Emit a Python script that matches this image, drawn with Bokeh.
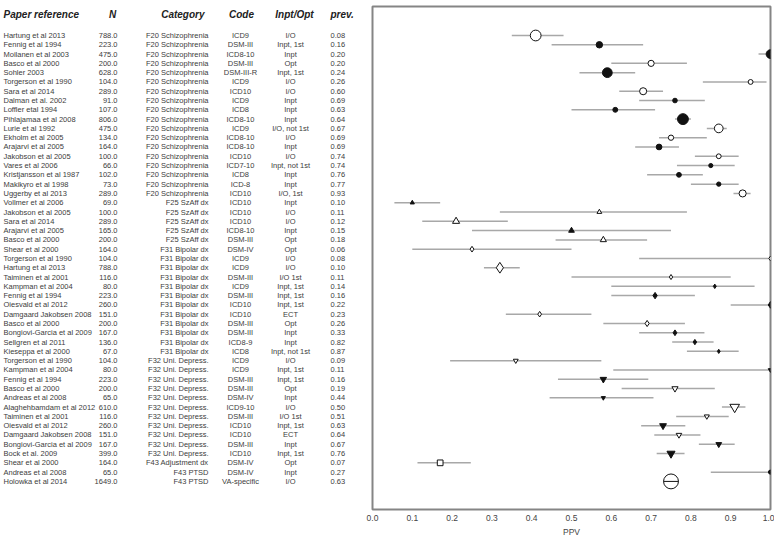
import math
from bokeh.plotting import figure
from bokeh.models import Range1d, FixedTicker, NumeralTickFormatter, ColumnDataSource
from bokeh.layouts import row
from bokeh.embed import file_html
from bokeh.resources import INLINE
from bokeh.core.properties import value

# ---------------- data ----------------
paper = [
    "Hartung et al 2013", "Fennig et al 1994", "Moilanen et al 2003", "Basco et al 2000", "Sohler 2003",
    "Torgerson et al 1990", "Sara et al 2014", "Dalman et al. 2002", "Loffler etal 1994", "Pihlajamaa et al 2008",
    "Lurie et al 1992", "Ekholm et al 2005", "Arajarvi et al 2005", "Jakobson et al 2005", "Vares et al 2006",
    "Kristjansson et al 1987", "Makikyro et al 1998", "Uggerby et al 2013",
    "Vollmer et al 2006", "Jakobson et al 2005", "Sara et al 2014", "Arajarvi et al 2005", "Basco et al 2000",
    "Shear et al 2000", "Torgerson et al 1990", "Hartung et al 2013", "Taiminen et al 2001", "Kampman et al 2004",
    "Fennig et al 1994", "Oiesvald et al 2012", "Damgaard Jakobsen 2008", "Basco et al 2000",
    "Bongiovi-Garcia et al 2009", "Sellgren et al 2011", "Kieseppa et al 2000",
    "Torgerson et al 1990", "Kampman et al 2004", "Fennig et al 1994", "Basco et al 2000", "Andreas et al 2008",
    "Alaghehbamdam et al 2012", "Taiminen et al 2001", "Oiesvald et al 2012", "Damgaard Jakobsen 2008",
    "Bongiovi-Garcia et al 2009", "Bock et al. 2009",
    "Shear et al 2000", "Andreas et al 2008", "Holowka et al 2014",
]
n_subjects = [
    788, 223, 475, 200, 628, 104, 289, 91, 107, 806, 475, 134, 164, 100, 66, 102, 73, 289,
    69, 100, 289, 165, 200,
    164, 104, 788, 116, 80, 223, 260, 151, 200, 167, 136, 67,
    104, 80, 223, 200, 65, 610, 116, 260, 151, 167, 399,
    164, 65, 1649,
]
category = (["F20 Schizophrenia"] * 18 + ["F25 SzAff dx"] * 5 + ["F31 Bipolar dx"] * 12
            + ["F32 Uni. Depress."] * 11 + ["F43 Adjustment dx", "F43 PTSD", "F43 PTSD"])
code = [
    "ICD9", "DSM-III", "ICD8-10", "DSM-III", "DSM-III-R", "ICD9", "ICD10", "ICD9", "ICD8", "ICD8-10",
    "ICD9", "ICD8-10", "ICD8-10", "ICD10", "ICD7-10", "ICD8", "ICD-8", "ICD10",
    "ICD10", "ICD10", "ICD10", "ICD8-10", "DSM-III",
    "DSM-IV", "ICD9", "ICD9", "DSM-III", "ICD9", "DSM-III", "ICD10", "ICD10", "DSM-III", "DSM-III",
    "ICD8-9", "ICD8",
    "ICD9", "ICD9", "DSM-III", "DSM-III", "DSM-IV", "ICD9-10", "DSM-III", "ICD10", "ICD10", "DSM-III", "ICD10",
    "DSM-IV", "DSM-IV", "VA-specific",
]
setting = [
    "I/O", "Inpt, 1st", "Inpt", "Opt", "Inpt, 1st", "I/O", "I/O", "Inpt", "Inpt", "Inpt",
    "I/O, not 1st", "I/O", "Inpt", "I/O", "Inpt, not 1st", "Inpt", "Inpt", "I/O, 1st",
    "Inpt", "I/O", "I/O", "Inpt", "Opt",
    "Opt", "I/O", "I/O", "I/O 1st", "Inpt, 1st", "Inpt, 1st", "Inpt, 1st", "ECT", "Opt", "Inpt", "Inpt",
    "Inpt, not 1st",
    "I/O", "Inpt, 1st", "Inpt, 1st", "Opt", "Inpt", "I/O", "I/O 1st", "Inpt, 1st", "ECT", "Inpt", "Inpt, 1st",
    "Opt", "Inpt", "I/O",
]
prev = [
    0.08, 0.16, 0.20, 0.20, 0.24, 0.26, 0.60, 0.69, 0.63, 0.64, 0.67, 0.69, 0.69, 0.74, 0.74, 0.76, 0.77, 0.93,
    0.10, 0.11, 0.12, 0.15, 0.18,
    0.06, 0.08, 0.10, 0.11, 0.14, 0.16, 0.22, 0.23, 0.26, 0.33, 0.82, 0.87,
    0.09, 0.11, 0.16, 0.19, 0.44, 0.50, 0.51, 0.63, 0.64, 0.67, 0.76,
    0.07, 0.27, 0.63,
]
ppv = [
    0.41, 0.57, 1.00, 0.70, 0.59, 0.95, 0.68, 0.76, 0.61, 0.78, 0.87, 0.75, 0.72, 0.87, 0.85, 0.77, 0.87, 0.93,
    0.10, 0.57, 0.21, 0.50, 0.58,
    0.25, 1.00, 0.32, 0.75, 0.86, 0.71, 1.00, 0.42, 0.69, 0.76, 0.81, 0.87,
    0.36, 1.00, 0.58, 0.76, 0.58, 0.91, 0.84, 0.73, 0.77, 0.87, 0.75,
    0.17, 1.00, 0.75,
]
ci_low = [
    0.35, 0.45, 0.97, 0.60, 0.52, 0.83, 0.62, 0.67, 0.50, 0.76, 0.84, 0.72, 0.66, 0.81, 0.765, 0.69, 0.80, 0.907,
    0.055, 0.32, 0.125, 0.25, 0.46,
    0.10, 0.67, 0.28, 0.50, 0.60, 0.60, 0.90, 0.335, 0.58, 0.67, 0.753, 0.79,
    0.195, 0.605, 0.466, 0.626, 0.445, 0.878, 0.763, 0.675, 0.708, 0.82, 0.714,
    0.113, 0.85, 0.735,
]
ci_high = [
    0.48, 0.68, 1.00, 0.79, 0.66, 0.99, 0.73, 0.835, 0.71, 0.80, 0.89, 0.84, 0.77, 0.92, 0.91, 0.83, 0.92, 0.95,
    0.17, 0.79, 0.34, 0.75, 0.69,
    0.50, 1.00, 0.37, 0.90, 0.96, 0.81, 1.00, 0.55, 0.785, 0.834, 0.857, 0.92,
    0.575, 1.00, 0.693, 0.86, 0.706, 0.937, 0.895, 0.786, 0.824, 0.91, 0.784,
    0.247, 1.00, 0.77,
]
ppv_ticks = [0.0, 0.1, 0.2, 0.3, 0.4, 0.5, 0.6, 0.7, 0.8, 0.9, 1.0]

# ---------------- layout constants ----------------
FONT = "Liberation Sans"
ROW = 9.29         # px per study row
TOP0 = 35          # px from page top to first row centre
FRAME_TOP = 6
TABLE_W = 366
FRAME_W, FRAME_H = 398, 503

rows = list(range(len(paper)))
y_top = (FRAME_TOP - TOP0) / ROW
y_bot = (FRAME_TOP + FRAME_H - TOP0) / ROW

# ---------------- table figure ----------------
t = figure(frame_width=TABLE_W, frame_height=FRAME_H, output_backend="svg", toolbar_location=None,
           x_axis_location=None, y_axis_location=None,
           x_range=Range1d(0, TABLE_W), y_range=Range1d(y_bot, y_top),
           min_border_top=FRAME_TOP, min_border_left=0, min_border_right=0, min_border_bottom=0)
t.grid.visible = False
t.outline_line_color = None

tsrc = ColumnDataSource(dict(
    y=rows, paper=paper,
    n=[f"{v:.1f}" for v in n_subjects],
    cat=category, code=code, setting=setting,
    prev=[f"{v:.2f}" for v in prev],
))
body = dict(source=tsrc, text_font=value(FONT), text_font_size="7.5px",
            text_color="#3c3c3c", text_baseline="middle")
t.text(x=3, y="y", text="paper", text_align="left", **body)
t.text(x=117, y="y", text="n", text_align="right", **body)
t.text(x=208, y="y", text="cat", text_align="right", **body)
t.text(x=240, y="y", text="code", text_align="center", **body)
t.text(x=290, y="y", text="setting", text_align="center", **body)
t.text(x=330, y="y", text="prev", text_align="left", **body)

hdr = dict(text_font=value(FONT), text_font_size="10px", text_font_style="bold italic",
           text_color="#222222", text_baseline="middle")
hy = -2.3
t.text(x=[3], y=[hy], text=["Paper reference"], text_align="left", **hdr)
t.text(x=[112], y=[hy], text=["N"], text_align="center", **hdr)
t.text(x=[204], y=[hy], text=["Category"], text_align="right", **hdr)
t.text(x=[241], y=[hy], text=["Code"], text_align="center", **hdr)
t.text(x=[294], y=[hy], text=["Inpt/Opt"], text_align="center", **hdr)
t.text(x=[330], y=[hy], text=["prev."], text_align="left", **hdr)

# ---------------- forest plot ----------------
p = figure(frame_width=FRAME_W, frame_height=FRAME_H, output_backend="svg", toolbar_location=None,
           y_axis_location=None, x_range=Range1d(0, 1), y_range=Range1d(y_bot, y_top),
           min_border_top=FRAME_TOP, min_border_left=372 - TABLE_W, min_border_right=4,
           min_border_bottom=5)
p.grid.visible = False
p.outline_line_color = "#858585"
p.outline_line_width = 2

marker_of = {"F20": "circle", "F25": "triangle", "F31": "diamond", "F32": "inverted_triangle",
             "F43 Adjustment": "square", "F43 PTSD": "circle"}

def marker_for(cat):
    for k in ("F43 Adjustment", "F43 PTSD"):
        if cat.startswith(k):
            return marker_of[k]
    return marker_of[cat[:3]]

psrc = ColumnDataSource(dict(
    y=rows, ppv=ppv, lo=ci_low, hi=ci_high,
    marker=[marker_for(c) for c in category],
    fill=["#111111" if s.startswith("Inpt") else "white" for s in setting],
    size=[1.5 + 0.33 * math.sqrt(n) for n in n_subjects],
))
p.segment(x0="lo", y0="y", x1="hi", y1="y", source=psrc, line_color="#a8a8a8", line_width=1.5)
p.scatter(x="ppv", y="y", marker="marker", size="size", fill_color="fill",
          line_color="#111111", line_width=1, source=psrc)

# PTSD marker carries a horizontal bar through the circle
ptsd = [i for i, c in enumerate(category) if c == "F43 PTSD"]
p.scatter(x=[ppv[i] for i in ptsd], y=[rows[i] for i in ptsd], marker="dash",
          size=[1.5 + 0.33 * math.sqrt(n_subjects[i]) for i in ptsd],
          line_color="#111111", line_width=1)

p.xaxis.ticker = FixedTicker(ticks=ppv_ticks)
p.xaxis.formatter = NumeralTickFormatter(format="0.0")
p.xaxis.axis_line_color = None
p.xaxis.major_tick_line_color = None
p.xaxis.minor_tick_line_color = None
p.xaxis.major_tick_out = 0
p.xaxis.major_tick_in = 0
p.xaxis.major_label_standoff = 5
p.xaxis.major_label_text_font = FONT
p.xaxis.major_label_text_font_size = "8.5px"
p.xaxis.major_label_text_color = "#444444"
p.xaxis.axis_label = "PPV"
p.xaxis.axis_label_text_font = FONT
p.xaxis.axis_label_text_font_size = "8.5px"
p.xaxis.axis_label_text_font_style = "normal"
p.xaxis.axis_label_text_color = "#444444"
p.xaxis.axis_label_standoff = 3

layout = row(t, p, spacing=0)
open("out.html", "w").write(file_html(layout, INLINE))
